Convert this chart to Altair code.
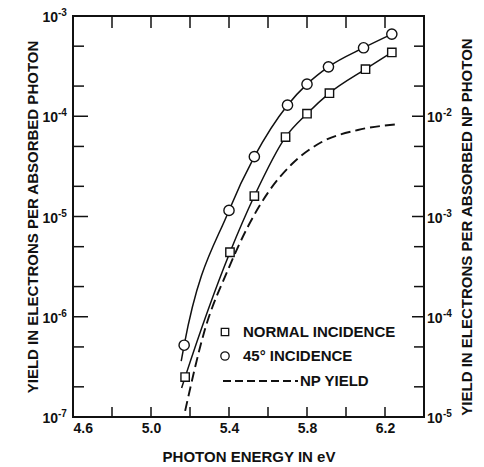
import altair as alt
import pandas as pd

# ---------------- data ----------------
# 45 degree incidence (circles), left axis
x45 = [5.17, 5.40, 5.53, 5.70, 5.80, 5.91, 6.09, 6.235]
y45 = [5.2e-7, 1.15e-5, 3.95e-5, 1.29e-4, 2.09e-4, 3.11e-4, 4.82e-4, 6.6e-4]
# drawn curve starts slightly below the first point
x45_curve = [5.155] + x45
y45_curve = [3.6e-7] + y45

# normal incidence (squares), left axis
xn = [5.175, 5.405, 5.53, 5.69, 5.80, 5.915, 6.10, 6.235]
yn = [2.5e-7, 4.4e-6, 1.6e-5, 6.2e-5, 1.06e-4, 1.70e-4, 2.95e-4, 4.33e-4]
xn_curve = [5.157] + xn
yn_curve = [1.95e-7] + yn

# NP yield (dashed), right axis
xnp = [5.175, 5.276, 5.395, 5.498, 5.60, 5.72, 5.873, 6.061, 6.257]
ynp = [1.15e-5, 7.4e-5, 2.95e-4, 8.0e-4, 1.73e-3, 3.3e-3, 5.5e-3, 7.3e-3, 8.3e-3]

# axes
x_label_values = [4.6, 5.0, 5.4, 5.8, 6.2]
x_tick_values = [4.8, 5.0, 5.2, 5.4, 5.6, 5.8, 6.0, 6.2]
left_exps = [-7, -6, -5, -4, -3]
right_exps = [-5, -4, -3, -2]
left_major = [1e-7, 1e-6, 1e-5, 1e-4, 1e-3]
left_minor = [2e-7, 5e-7, 2e-6, 5e-6, 2e-5, 5e-5, 2e-4, 5e-4]
right_major = [1e-5, 1e-4, 1e-3, 1e-2, 1e-1]
right_minor = [2e-5, 5e-5, 2e-4, 5e-4, 2e-3, 5e-3, 2e-2, 5e-2]

legend_labels = ["NORMAL INCIDENCE", "45° INCIDENCE", "NP YIELD"]
right_title = "YIELD IN ELECTRONS PER ABSORBED NP PHOTON"

# ---------------- chart ----------------
W, H = 351, 401
FONT = "Liberation Sans"
BLACK = "#111111"

xs = alt.Scale(domain=[4.6, 6.4], nice=False, zero=False)
yl = alt.Scale(type="log", domain=[1e-7, 1e-3], nice=False)
yr = alt.Scale(type="log", domain=[1e-5, 1e-1], nice=False)

X = alt.X("e:Q", scale=xs,
          axis=alt.Axis(values=x_label_values, format=".1f", title="PHOTON ENERGY IN eV",
                        labelPadding=4, titlePadding=14))
YL = alt.Y("v:Q", scale=yl,
           axis=alt.Axis(orient="left", labels=False, title="YIELD IN ELECTRONS PER ABSORBED PHOTON",
                         titlePadding=33, titleFontSize=15))
YR = alt.Y("v:Q", scale=yr, axis=None)

df45c = pd.DataFrame({"e": x45_curve, "v": y45_curve})
dfnc = pd.DataFrame({"e": xn_curve, "v": yn_curve})
df45 = pd.DataFrame({"e": x45, "v": y45})
dfn = pd.DataFrame({"e": xn, "v": yn})
dfnp = pd.DataFrame({"e": xnp, "v": ynp})

line45 = alt.Chart(df45c).mark_line(color=BLACK, strokeWidth=1.5, interpolate="monotone").encode(x=X, y=YL)
linen = alt.Chart(dfnc).mark_line(color=BLACK, strokeWidth=1.5, interpolate="monotone").encode(x="e:Q", y="v:Q")
pts45 = alt.Chart(df45).mark_point(shape="circle", filled=True, fill="white", stroke=BLACK,
                                   strokeWidth=1.4, size=105, opacity=1).encode(x="e:Q", y="v:Q")
ptsn = alt.Chart(dfn).mark_point(shape="square", filled=True, fill="white", stroke=BLACK,
                                 strokeWidth=1.4, size=70, opacity=1).encode(x="e:Q", y="v:Q")

lmaj = alt.Chart(pd.DataFrame({"v": left_major})).mark_rule(color=BLACK, strokeWidth=1.5).encode(
    y="v:Q", x=alt.value(0), x2=alt.value(15))
lmin = alt.Chart(pd.DataFrame({"v": left_minor})).mark_rule(color=BLACK, strokeWidth=1.5).encode(
    y="v:Q", x=alt.value(0), x2=alt.value(11))

ldf = pd.DataFrame({"v": [10.0 ** k for k in left_exps],
                    "base": ["10"] * len(left_exps),
                    "ex": [str(k) for k in left_exps]})
ltext10 = alt.Chart(ldf).mark_text(align="right", baseline="middle", font=FONT, fontWeight="bold",
                                   fontSize=14, color=BLACK, dy=2).encode(y="v:Q", x=alt.value(-15), text="base:N")
ltextex = alt.Chart(ldf).mark_text(align="left", baseline="middle", font=FONT, fontWeight="bold",
                                   fontSize=10, color=BLACK, dy=-3).encode(y="v:Q", x=alt.value(-15), text="ex:N")

xt = pd.DataFrame({"e": x_tick_values})
topt = alt.Chart(xt).mark_rule(color=BLACK, strokeWidth=1.5).encode(
    x="e:Q", y=alt.value(0), y2=alt.value(12))
bott = alt.Chart(xt).mark_rule(color=BLACK, strokeWidth=1.5).encode(
    x="e:Q", y=alt.value(H), y2=alt.value(H - 10))

one = pd.DataFrame({"k": [0]})
leg_sq = alt.Chart(one).mark_point(shape="square", filled=True, fill="white", stroke=BLACK,
                                   strokeWidth=1.3, size=55, opacity=1).encode(x=alt.value(152), y=alt.value(316))
leg_ci = alt.Chart(one).mark_point(shape="circle", filled=True, fill="white", stroke=BLACK,
                                   strokeWidth=1.3, size=70, opacity=1).encode(x=alt.value(152), y=alt.value(340))
leg_da = alt.Chart(one).mark_rule(color=BLACK, strokeWidth=1.8, strokeDash=[8, 4]).encode(
    x=alt.value(150), x2=alt.value(225), y=alt.value(365))
legdf = pd.DataFrame({"t": legend_labels, "px": [170, 170, 227], "py": [316, 340, 365]})
leg_txt = alt.Chart(legdf).mark_text(align="left", baseline="middle", font=FONT, fontWeight="bold",
                                     fontSize=15, color=BLACK).encode(
    x=alt.X("px:Q", scale=None), y=alt.Y("py:Q", scale=None), text="t:N")
rtitle = alt.Chart(pd.DataFrame({"t": [right_title]})).mark_text(
    align="center", baseline="middle", angle=270, font=FONT, fontWeight="bold", fontSize=15, color=BLACK
).encode(x=alt.value(W + 43), y=alt.value(211), text="t:N")

left = alt.layer(line45, linen, pts45, ptsn, lmaj, lmin, ltext10, ltextex, topt, bott)

npline = alt.Chart(dfnp).mark_line(color=BLACK, strokeWidth=1.9, strokeDash=[10, 5],
                                   interpolate="monotone").encode(x="e:Q", y=YR)
rmaj = alt.Chart(pd.DataFrame({"v": right_major})).mark_rule(color=BLACK, strokeWidth=1.5).encode(
    y="v:Q", x=alt.value(W), x2=alt.value(W - 12))
rmin = alt.Chart(pd.DataFrame({"v": right_minor})).mark_rule(color=BLACK, strokeWidth=1.5).encode(
    y="v:Q", x=alt.value(W), x2=alt.value(W - 10))
rdf = pd.DataFrame({"v": [10.0 ** k for k in right_exps],
                    "base": ["10"] * len(right_exps),
                    "ex": [str(k) for k in right_exps]})
rtext10 = alt.Chart(rdf).mark_text(align="left", baseline="middle", font=FONT, fontWeight="bold",
                                   fontSize=14, color=BLACK, dy=2).encode(y="v:Q", x=alt.value(W + 3), text="base:N")
rtextex = alt.Chart(rdf).mark_text(align="left", baseline="middle", font=FONT, fontWeight="bold",
                                   fontSize=10, color=BLACK, dy=-3).encode(y="v:Q", x=alt.value(W + 19), text="ex:N")

right = alt.layer(npline, rmaj, rmin, rtext10, rtextex)

chart = alt.layer(left, right, leg_sq, leg_ci, leg_da, leg_txt, rtitle).resolve_scale(y="independent").properties(
    width=W, height=H,
    autosize=alt.AutoSizeParams(type="none"),
    padding={"left": 65, "top": 8, "right": 52, "bottom": 50},
    background="white",
).configure_view(stroke=BLACK, strokeWidth=2).configure_axis(
    ticks=False, domain=False, grid=False,
    labelFont=FONT, labelFontWeight="bold", labelFontSize=14, labelColor=BLACK,
    titleFont=FONT, titleFontWeight="bold", titleFontSize=15, titleColor=BLACK,
)

chart.save("out.html", embed_options={"renderer": "svg", "actions": False})
